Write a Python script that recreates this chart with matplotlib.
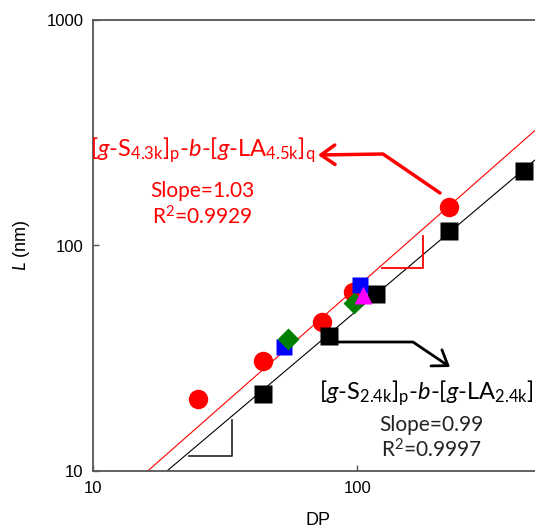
import numpy as np
import matplotlib
matplotlib.use("Agg")
import matplotlib.pyplot as plt
from matplotlib.patches import FancyArrowPatch
from matplotlib.path import Path

# data (DP, L in nm)
red_dp = [24.9, 44.0, 73.5, 96.3, 222]
red_L = [20.8, 30.7, 45.8, 62.2, 148.6]
black_dp = [44.0, 78.2, 117.8, 222, 428]
black_L = [21.9, 39.7, 61.0, 116, 215]
blue_dp = [52.8, 102.4]
blue_L = [35.5, 66.8]
green_dp = [54.7, 97.2]
green_L = [38.5, 55.6]
magenta_dp = [105]
magenta_L = [60.4]

# power-law fits: L = 10 at dp0, with slope
red_fit = dict(slope=1.03, dp0=16.1)
black_fit = dict(slope=0.99, dp0=19.05)

# slope triangles (x0, x1, y_base, y_top)
red_tri = (124, 177, 79.8, 110.7)
black_tri = (23.1, 33.6, 11.66, 16.9)

plt.rcParams['font.family'] = ['Liberation Sans', 'DejaVu Sans']
plt.rcParams['mathtext.fontset'] = 'custom'
plt.rcParams['mathtext.rm'] = 'Lato'
plt.rcParams['mathtext.it'] = 'Lato:italic'

W, H = 535, 529
fig = plt.figure(figsize=(W / 100, H / 100), dpi=100)
ax = fig.add_axes([93 / W, (H - 471) / H, 450 / W, 451 / H])
ax.set_xscale('log')
ax.set_yscale('log')
ax.set_xlim(10, 505)
ax.set_ylim(10, 1000)

xx = np.array([10, 1000.0])
for fit, col in [(red_fit, 'red'), (black_fit, 'black')]:
    yy = 10 * (xx / fit['dp0']) ** fit['slope']
    ax.plot(xx, yy, color=col, lw=0.8, zorder=2)

for tri, col in [(red_tri, 'red'), (black_tri, '#333333')]:
    x0, x1, yb, yt = tri
    ax.plot([x0, x1, x1], [yb, yb, yt], color=col, lw=1.3, zorder=2)

ax.plot(red_dp, red_L, 'o', color='red', ms=14, mec='none', zorder=3)
ax.plot(black_dp, black_L, 's', color='black', ms=12.5, mec='none', zorder=4)
ax.plot(blue_dp, blue_L, 's', color='blue', ms=12, mec='none', zorder=5)
ax.plot(green_dp, green_L, 'D', color='green', ms=11, mec='none', zorder=6)
ax.plot(magenta_dp, magenta_L, '^', color='magenta', ms=13, mec='none', zorder=7)

ax.set_xticks([10, 100])
ax.set_xticklabels(['10', '100'])
ax.set_yticks([10, 100, 1000])
ax.set_yticklabels(['10', '100', '1000'])
ax.minorticks_off()
ax.tick_params(direction='in', length=4, width=1, labelsize=12, color='#555555', pad=7)
for s in ax.spines.values():
    s.set_color('#555555')
    s.set_linewidth(1.3)
ax.set_xlabel('DP', fontsize=13, labelpad=12)
ax.set_ylabel(r'$\it{L}$ (nm)', fontsize=13, labelpad=10)


def fp(x, y):
    return (x / W, 1 - y / H)


tfont = dict(family='Lato', fontsize=15, ha='center', va='center')
fig.text(*fp(203, 150), r'[$g$-S$_{4.3\mathrm{k}}$]$_{\mathrm{p}}$-$b$-[$g$-LA$_{4.5\mathrm{k}}$]$_{\mathrm{q}}$',
         color='red', family='Lato', fontsize=17, ha='center', va='center')
fig.text(*fp(202, 191), 'Slope=1.03', color='red', **tfont)
fig.text(*fp(202, 217), r'R$^2$=0.9929', color='red', **tfont)

fig.text(*fp(432, 393), r'[$g$-S$_{2.4\mathrm{k}}$]$_{\mathrm{p}}$-$b$-[$g$-LA$_{2.4\mathrm{k}}$]$_{\mathrm{q}}$',
         color='black', family='Lato', fontsize=17, ha='center', va='center')
fig.text(*fp(431, 425), 'Slope=0.99', color='#222222', **tfont)
fig.text(*fp(432, 450), r'R$^2$=0.9997', color='#222222', **tfont)

red_arrow = Path([fp(440, 193), fp(383, 154), fp(318, 155)])
fig.add_artist(FancyArrowPatch(path=red_arrow, transform=fig.transFigure,
                               arrowstyle='->,head_length=0.5,head_width=0.35',
                               mutation_scale=20, color='red', lw=2.5))
black_arrow = Path([fp(337, 342), fp(413, 342), fp(450, 367)])
fig.add_artist(FancyArrowPatch(path=black_arrow, transform=fig.transFigure,
                               arrowstyle='->,head_length=0.5,head_width=0.35',
                               mutation_scale=20, color='black', lw=2))

fig.savefig('out.png', dpi=100)
